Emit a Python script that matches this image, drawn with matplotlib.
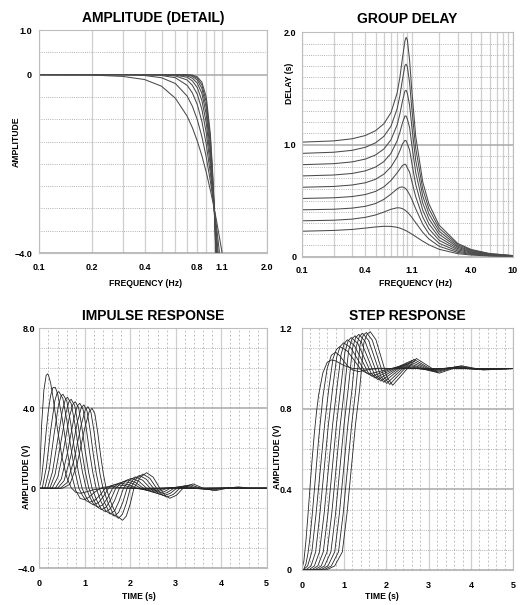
import matplotlib
matplotlib.use("Agg")
import matplotlib.pyplot as plt
from matplotlib.ticker import FixedLocator, FixedFormatter, NullFormatter

# Butterworth low-pass family, cutoff 1 Hz
ORDERS_FREQ = [2, 3, 4, 5, 6, 7, 8, 9, 10]

AMP_FREQ = [0.1, 0.2, 0.3, 0.4, 0.5, 0.6, 0.7, 0.75, 0.8, 0.85, 0.9, 0.95,
            0.975, 1.0, 1.025, 1.05, 1.1, 1.2]
AMP_DB = [
    [0.0, -0.01, -0.04, -0.11, -0.26, -0.53, -0.93, -1.19, -1.49, -1.82, -2.19, -2.59, -2.80, -3.01, -3.23, -3.46, -3.92, -4.88],
    [0.0, 0.0, 0.0, -0.02, -0.07, -0.20, -0.48, -0.71, -1.01, -1.39, -1.85, -2.39, -2.69, -3.01, -3.34, -3.69, -4.43, -6.00],
    [0.0, 0.0, 0.0, 0.0, -0.02, -0.07, -0.24, -0.41, -0.67, -1.05, -1.56, -2.21, -2.59, -3.01, -3.46, -3.94, -4.97, -7.24],
    [0.0, 0.0, 0.0, 0.0, 0.0, -0.03, -0.12, -0.24, -0.44, -0.78, -1.30, -2.04, -2.50, -3.01, -3.58, -4.20, -5.56, -8.57],
    [0.0, 0.0, 0.0, 0.0, 0.0, -0.01, -0.06, -0.14, -0.29, -0.58, -1.08, -1.88, -2.41, -3.01, -3.70, -4.47, -6.17, -9.96],
    [0.0, 0.0, 0.0, 0.0, 0.0, 0.0, -0.03, -0.08, -0.19, -0.42, -0.89, -1.73, -2.31, -3.01, -3.83, -4.74, -6.79, -11.4],
    [0.0, 0.0, 0.0, 0.0, 0.0, 0.0, -0.01, -0.04, -0.12, -0.31, -0.74, -1.58, -2.22, -3.01, -3.95, -5.03, -7.48, -12.8],
    [0.0, 0.0, 0.0, 0.0, 0.0, 0.0, -0.01, -0.02, -0.08, -0.23, -0.61, -1.45, -2.13, -3.01, -4.08, -5.32, -8.17, -14.3],
    [0.0, 0.0, 0.0, 0.0, 0.0, 0.0, 0.0, -0.01, -0.05, -0.17, -0.50, -1.33, -2.05, -3.01, -4.21, -5.63, -8.88, -15.8],
]

GD_FREQ = [0.1, 0.2, 0.3, 0.4, 0.5, 0.6, 0.7, 0.8, 0.85, 0.9, 0.95, 0.975, 1.0,
           1.05, 1.1, 1.2, 1.4, 1.6, 2.0, 3.0, 4.0, 6.0, 10.0]
GD_SEC = [
    [0.227, 0.234, 0.243, 0.255, 0.265, 0.271, 0.270, 0.262, 0.255, 0.246, 0.236, 0.231, 0.225, 0.214, 0.202, 0.179, 0.138, 0.106, 0.066, 0.027, 0.015, 0.0064, 0.0023],
    [0.320, 0.325, 0.335, 0.351, 0.372, 0.398, 0.423, 0.436, 0.435, 0.428, 0.415, 0.406, 0.398, 0.376, 0.352, 0.303, 0.217, 0.158, 0.093, 0.038, 0.021, 0.009, 0.0032],
    [0.418, 0.423, 0.433, 0.449, 0.474, 0.511, 0.558, 0.604, 0.619, 0.622, 0.612, 0.602, 0.588, 0.554, 0.513, 0.427, 0.289, 0.204, 0.119, 0.049, 0.027, 0.0118, 0.0042],
    [0.519, 0.525, 0.536, 0.554, 0.582, 0.623, 0.679, 0.747, 0.782, 0.814, 0.825, 0.815, 0.791, 0.754, 0.676, 0.535, 0.352, 0.249, 0.146, 0.061, 0.033, 0.0146, 0.0052],
    [0.619, 0.626, 0.639, 0.659, 0.690, 0.736, 0.800, 0.889, 0.945, 1.006, 1.037, 1.033, 1.005, 0.953, 0.840, 0.643, 0.414, 0.293, 0.173, 0.072, 0.040, 0.0174, 0.0062],
    [0.720, 0.728, 0.742, 0.765, 0.799, 0.848, 0.921, 1.032, 1.109, 1.195, 1.255, 1.252, 1.227, 1.153, 1.003, 0.751, 0.477, 0.338, 0.200, 0.084, 0.046, 0.0201, 0.0072],
    [0.820, 0.829, 0.845, 0.870, 0.907, 0.960, 1.042, 1.174, 1.272, 1.390, 1.478, 1.483, 1.456, 1.352, 1.166, 0.858, 0.540, 0.382, 0.227, 0.095, 0.052, 0.0229, 0.0082],
    [0.921, 0.931, 0.948, 0.975, 1.015, 1.073, 1.163, 1.317, 1.435, 1.582, 1.705, 1.716, 1.692, 1.552, 1.330, 0.966, 0.602, 0.427, 0.254, 0.107, 0.059, 0.0257, 0.0092],
    [1.021, 1.032, 1.051, 1.080, 1.123, 1.185, 1.284, 1.459, 1.598, 1.774, 1.926, 1.955, 1.933, 1.751, 1.493, 1.074, 0.665, 0.471, 0.281, 0.118, 0.065, 0.0285, 0.0102],
]

# time domain shows orders 2..12
IMP_T = [
    [0, 0.05, 0.1, 0.15, 0.18, 0.2, 0.25, 0.3, 0.4, 0.5, 0.6, 0.7, 0.8, 0.9, 1.0, 1.2, 1.4, 1.7, 2.2, 5.0],
    [0, 0.05, 0.1, 0.15, 0.2, 0.25, 0.3, 0.35, 0.4, 0.5, 0.6, 0.7, 0.8, 0.9, 1.0, 1.1, 1.2, 1.3, 1.4, 1.6, 1.8, 2.0, 5.0],
    [0, 0.064, 0.156, 0.247, 0.339, 0.393, 0.43, 0.518, 0.606, 0.694, 0.782, 0.87, 0.947, 1.023, 1.10, 1.217, 1.333, 1.45, 1.57, 1.69, 1.885, 2.08, 2.31, 2.61, 2.84, 3.1, 5.0],
    [0, 0.12, 0.22, 0.32, 0.42, 0.48, 0.52, 0.604, 0.688, 0.772, 0.856, 0.94, 1.023, 1.107, 1.19, 1.30, 1.41, 1.52, 1.645, 1.77, 1.96, 2.15, 2.265, 2.38, 2.53, 2.68, 2.91, 3.14, 5.0],
    [0, 0.18, 0.29, 0.40, 0.51, 0.576, 0.62, 0.702, 0.784, 0.866, 0.948, 1.03, 1.117, 1.203, 1.29, 1.397, 1.503, 1.61, 1.74, 1.87, 2.05, 2.23, 2.345, 2.46, 2.605, 2.75, 2.98, 3.21, 3.47, 3.73, 5.0],
    [0, 0.23, 0.348, 0.465, 0.583, 0.653, 0.70, 0.778, 0.856, 0.934, 1.012, 1.09, 1.183, 1.277, 1.37, 1.473, 1.577, 1.68, 1.81, 1.94, 2.115, 2.29, 2.405, 2.52, 2.665, 2.81, 3.04, 3.27, 3.53, 3.79, 5.0],
    [0, 0.28, 0.408, 0.535, 0.663, 0.739, 0.79, 0.864, 0.938, 1.012, 1.086, 1.16, 1.26, 1.36, 1.46, 1.56, 1.66, 1.76, 1.89, 2.02, 2.19, 2.36, 2.475, 2.59, 2.735, 2.88, 3.11, 3.34, 3.60, 3.86, 4.11, 4.36, 5.0],
    [0, 0.35, 0.485, 0.62, 0.755, 0.836, 0.89, 0.962, 1.034, 1.106, 1.178, 1.25, 1.353, 1.457, 1.56, 1.657, 1.753, 1.85, 1.98, 2.11, 2.275, 2.44, 2.55, 2.66, 2.81, 2.96, 3.19, 3.42, 3.68, 3.94, 4.19, 4.44, 5.0],
    [0, 0.40, 0.545, 0.69, 0.835, 0.922, 0.98, 1.048, 1.116, 1.184, 1.252, 1.32, 1.43, 1.54, 1.65, 1.743, 1.837, 1.93, 2.065, 2.20, 2.355, 2.51, 2.62, 2.73, 2.875, 3.02, 3.25, 3.48, 3.74, 4.00, 4.25, 4.50, 5.0],
    [0, 0.46, 0.613, 0.765, 0.918, 1.009, 1.07, 1.136, 1.202, 1.268, 1.334, 1.40, 1.513, 1.627, 1.74, 1.827, 1.913, 2.00, 2.14, 2.28, 2.43, 2.58, 2.69, 2.80, 2.945, 3.09, 3.32, 3.55, 3.81, 4.07, 4.32, 4.57, 5.0],
    [0, 0.51, 0.673, 0.835, 0.998, 1.095, 1.16, 1.222, 1.284, 1.346, 1.408, 1.47, 1.59, 1.71, 1.83, 1.913, 1.997, 2.08, 2.22, 2.36, 2.505, 2.65, 2.76, 2.87, 3.015, 3.16, 3.38, 3.61, 3.87, 4.13, 4.38, 4.63, 5.0],
]
IMP_V = [
    [0, 3.13, 4.90, 5.64, 5.72, 5.67, 5.25, 4.56, 2.94, 1.54, 0.57, 0.03, -0.20, -0.25, -0.20, -0.07, 0.0, 0.01, 0.0, 0.0],
    [0, 0.50, 1.59, 2.82, 3.90, 4.65, 5.03, 5.05, 4.75, 3.54, 2.05, 0.77, -0.11, -0.51, -0.57, -0.43, -0.23, -0.06, 0.05, 0.09, 0.03, -0.01, 0.0],
    [0, 0, 1.06, 2.85, 4.35, 4.78, 4.83, 4.49, 3.38, 2.03, 0.87, 0, -0.35, -0.61, -0.70, -0.61, -0.35, 0, 0.13, 0.18, 0.13, 0, -0.05, 0, 0.01, 0, 0],
    [0, 0, 0.94, 2.63, 4.14, 4.63, 4.70, 4.37, 3.29, 1.97, 0.85, 0, -0.415, -0.72, -0.83, -0.72, -0.415, 0, 0.18, 0.26, 0.18, 0, -0.06, -0.09, -0.06, 0, 0.02, 0, 0],
    [0, 0, 0.82, 2.37, 3.91, 4.46, 4.55, 4.23, 3.19, 1.91, 0.82, 0, -0.475, -0.83, -0.95, -0.83, -0.475, 0, 0.24, 0.34, 0.24, 0, -0.10, -0.14, -0.10, 0, 0.04, 0, -0.01, 0, 0],
    [0, 0, 0.71, 2.18, 3.74, 4.34, 4.45, 4.14, 3.12, 1.87, 0.80, 0, -0.535, -0.93, -1.07, -0.93, -0.535, 0, 0.29, 0.42, 0.29, 0, -0.13, -0.19, -0.13, 0, 0.06, 0, -0.02, 0, 0],
    [0, 0, 0.56, 1.95, 3.59, 4.20, 4.33, 4.03, 3.03, 1.82, 0.78, 0, -0.59, -1.03, -1.18, -1.03, -0.59, 0, 0.35, 0.50, 0.35, 0, -0.18, -0.25, -0.18, 0, 0.09, 0, -0.03, 0, 0.01, 0, 0],
    [0, 0, 0.47, 1.79, 3.44, 4.12, 4.25, 3.95, 2.98, 1.79, 0.77, 0, -0.645, -1.12, -1.29, -1.12, -0.645, 0, 0.40, 0.57, 0.40, 0, -0.22, -0.31, -0.22, 0, 0.12, 0, -0.05, 0, 0.02, 0, 0],
    [0, 0, 0.38, 1.58, 3.29, 4.02, 4.17, 3.88, 2.92, 1.75, 0.75, 0, -0.695, -1.21, -1.39, -1.21, -0.695, 0, 0.45, 0.64, 0.45, 0, -0.26, -0.37, -0.26, 0, 0.15, 0, -0.07, 0, 0.03, 0, 0],
    [0, 0, 0.29, 1.43, 3.14, 3.92, 4.08, 3.79, 2.86, 1.71, 0.73, 0, -0.75, -1.30, -1.50, -1.30, -0.75, 0, 0.50, 0.71, 0.50, 0, -0.31, -0.44, -0.31, 0, 0.18, 0, -0.09, 0, 0.05, 0, 0],
    [0, 0, 0.20, 1.24, 3.00, 3.82, 4.00, 3.72, 2.80, 1.68, 0.72, 0, -0.80, -1.39, -1.60, -1.39, -0.80, 0, 0.55, 0.78, 0.55, 0, -0.35, -0.50, -0.35, 0, 0.22, 0, -0.12, 0, 0.07, 0, 0],
]

STEP_T = [
    [0, 0.05, 0.1, 0.15, 0.2, 0.25, 0.3, 0.35, 0.4, 0.5, 0.6, 0.707, 0.8, 1.0, 1.2, 1.41, 1.7, 2.2, 5.0],
    [0, 0.05, 0.1, 0.15, 0.2, 0.25, 0.3, 0.35, 0.4, 0.5, 0.6, 0.7, 0.8, 0.9, 1.0, 1.1, 1.2, 1.35, 1.6, 1.8, 2.2, 5.0],
    [0, 0.04, 0.14, 0.24, 0.34, 0.44, 0.54, 0.64, 0.74, 0.82, 0.90, 1.07, 1.24, 1.41, 1.58, 1.90, 2.22, 2.51, 2.80, 5.0],
    [0, 0.10, 0.22, 0.33, 0.43, 0.53, 0.63, 0.73, 0.83, 0.91, 0.99, 1.1575, 1.325, 1.4925, 1.66, 1.975, 2.29, 2.575, 2.86, 3.41, 5.0],
    [0, 0.17, 0.30, 0.42, 0.53, 0.63, 0.73, 0.83, 0.93, 1.005, 1.08, 1.2425, 1.405, 1.5675, 1.73, 2.045, 2.36, 2.64, 2.92, 3.46, 4.0, 5.0],
    [0, 0.24, 0.38, 0.51, 0.62, 0.72, 0.82, 0.92, 1.02, 1.095, 1.17, 1.3275, 1.485, 1.6425, 1.80, 2.11, 2.42, 2.695, 2.97, 3.51, 4.05, 5.0],
    [0, 0.31, 0.46, 0.60, 0.71, 0.81, 0.91, 1.01, 1.11, 1.185, 1.26, 1.4125, 1.565, 1.7175, 1.87, 2.175, 2.48, 2.755, 3.03, 3.57, 4.1, 5.0],
    [0, 0.38, 0.54, 0.69, 0.80, 0.90, 1.00, 1.10, 1.20, 1.275, 1.35, 1.4975, 1.645, 1.7925, 1.94, 2.24, 2.54, 2.81, 3.08, 3.62, 4.15, 5.0],
    [0, 0.45, 0.62, 0.78, 0.89, 0.99, 1.09, 1.19, 1.29, 1.365, 1.44, 1.5825, 1.725, 1.8675, 2.01, 2.305, 2.60, 2.87, 3.14, 3.67, 4.2, 5.0],
    [0, 0.52, 0.70, 0.87, 0.98, 1.08, 1.18, 1.28, 1.38, 1.455, 1.53, 1.6675, 1.805, 1.9425, 2.08, 2.365, 2.65, 2.92, 3.19, 3.72, 4.25, 5.0],
    [0, 0.59, 0.78, 0.96, 1.07, 1.17, 1.27, 1.37, 1.47, 1.545, 1.62, 1.7525, 1.885, 2.0175, 2.15, 2.43, 2.71, 2.98, 3.25, 3.77, 4.3, 5.0],
]
STEP_V = [
    [0, 0.042, 0.145, 0.279, 0.421, 0.558, 0.681, 0.785, 0.869, 0.979, 1.030, 1.043, 1.038, 1.015, 1.001, 0.998, 0.999, 1.0, 1.0],
    [0, 0.004, 0.030, 0.085, 0.169, 0.277, 0.399, 0.526, 0.649, 0.859, 0.999, 1.066, 1.081, 1.064, 1.035, 1.010, 0.993, 0.985, 0.995, 1.002, 1.0, 1.0],
    [0, 0.001, 0.02, 0.09, 0.28, 0.50, 0.72, 0.90, 1.05, 1.095, 1.109, 1.089, 1.041, 0.992, 0.972, 0.989, 1.006, 1.003, 0.999, 1.0],
    [0, 0.001, 0.02, 0.09, 0.28, 0.50, 0.72, 0.90, 1.06, 1.11, 1.128, 1.104, 1.045, 0.986, 0.962, 0.9865, 1.011, 1.004, 0.997, 1.001, 1.0],
    [0, 0.001, 0.02, 0.09, 0.28, 0.50, 0.72, 0.90, 1.07, 1.125, 1.143, 1.115, 1.048, 0.981, 0.953, 0.985, 1.017, 1.006, 0.995, 1.002, 0.999, 1.0],
    [0, 0.001, 0.02, 0.09, 0.28, 0.50, 0.72, 0.90, 1.08, 1.137, 1.154, 1.124, 1.050, 0.976, 0.945, 0.984, 1.023, 1.008, 0.992, 1.004, 0.998, 1.0],
    [0, 0.001, 0.02, 0.09, 0.28, 0.50, 0.72, 0.90, 1.09, 1.146, 1.163, 1.130, 1.051, 0.971, 0.938, 0.984, 1.029, 1.009, 0.989, 1.006, 0.997, 1.0],
    [0, 0.001, 0.02, 0.09, 0.28, 0.50, 0.72, 0.90, 1.10, 1.154, 1.170, 1.135, 1.051, 0.967, 0.932, 0.984, 1.035, 1.011, 0.986, 1.008, 0.996, 1.0],
    [0, 0.001, 0.02, 0.09, 0.28, 0.50, 0.72, 0.90, 1.11, 1.161, 1.175, 1.139, 1.051, 0.962, 0.926, 0.984, 1.041, 1.012, 0.983, 1.010, 0.995, 1.0],
    [0, 0.001, 0.02, 0.09, 0.28, 0.50, 0.72, 0.90, 1.12, 1.166, 1.179, 1.141, 1.050, 0.959, 0.921, 0.984, 1.046, 1.013, 0.980, 1.012, 0.994, 1.0],
    [0, 0.001, 0.02, 0.09, 0.28, 0.50, 0.72, 0.90, 1.13, 1.171, 1.183, 1.144, 1.050, 0.956, 0.917, 0.984, 1.050, 1.014, 0.977, 1.014, 0.993, 1.0],
]

FONT = ['Liberation Sans Narrow', 'Liberation Sans', 'DejaVu Sans']
plt.rcParams['font.family'] = FONT
plt.rcParams['font.weight'] = 'bold'
plt.rcParams['axes.titleweight'] = 'bold'
plt.rcParams['axes.labelweight'] = 'bold'

VGRID = '#cfcfcf'
DOTTED = '#9a9a9a'
MAJOR = '#a8a8a8'
SPINE = '#bdbdbd'
TITLE_SIZE = 10
LABEL_SIZE = 6.2
TICK_SIZE = 6.5


def style(ax, xmajor, xlabels, xminor, ymajor, ylabels, yminor, vminor_dashed=False):
    ax.xaxis.set_major_locator(FixedLocator(xmajor))
    ax.xaxis.set_major_formatter(FixedFormatter(xlabels))
    ax.xaxis.set_minor_locator(FixedLocator(xminor))
    ax.xaxis.set_minor_formatter(NullFormatter())
    ax.yaxis.set_major_locator(FixedLocator(ymajor))
    ax.yaxis.set_major_formatter(FixedFormatter(ylabels))
    ax.yaxis.set_minor_locator(FixedLocator(yminor))
    ax.yaxis.set_minor_formatter(NullFormatter())
    ax.tick_params(which='both', length=0, labelsize=TICK_SIZE)
    ax.grid(True, axis='x', which='major', color=VGRID, lw=0.9, ls='-')
    if vminor_dashed:
        ax.grid(True, axis='x', which='minor', color='#b4b4b4', lw=0.6, ls=(0, (2.2, 2.6)))
    else:
        ax.grid(True, axis='x', which='minor', color=VGRID, lw=0.9, ls='-')
    ax.grid(True, axis='y', which='major', color=MAJOR, lw=1.1, ls='-')
    ax.grid(True, axis='y', which='minor', color=DOTTED, lw=0.6, ls=(0, (1, 1.6)))
    ax.set_axisbelow(True)
    for s in ax.spines.values():
        s.set_color(SPINE)
        s.set_linewidth(0.8)


fig = plt.figure(figsize=(5.2, 6.05), dpi=100)

# amplitude detail
ax1 = fig.add_axes([0.075, 0.5818, 0.4385, 0.3686])
ax1.set_xscale('log')
for row in AMP_DB:
    ax1.plot(AMP_FREQ, row, color='#4a4a4a', lw=0.75)
ax1.set_xlim(0.1, 2.0)
ax1.set_ylim(-4.0, 1.0)
style(ax1, [0.1, 0.2, 0.4, 0.8, 1.1, 2.0], ['0.1', '0.2', '0.4', '0.8', '1.1', '2.0'],
      [0.3, 0.5, 0.6, 0.7, 0.9, 1.0],
      [-4.0, 0.0, 1.0], ['\u22124.0', '0', '1.0'],
      [-3.5, -3.0, -2.5, -2.0, -1.5, -1.0, -0.5, 0.5])
ax1.tick_params(axis='x', pad=7)
ax1.tick_params(axis='y', pad=5)
ax1.set_title('AMPLITUDE (DETAIL)', fontsize=TITLE_SIZE, pad=6)
ax1.set_xlabel('FREQUENCY (Hz)', fontsize=LABEL_SIZE)
ax1.xaxis.set_label_coords(0.468, -0.117)
ax1.set_ylabel('AMPLITUDE', fontsize=LABEL_SIZE)
ax1.yaxis.set_label_coords(-0.079, 0.5)

# group delay
ax2 = fig.add_axes([0.5802, 0.5757, 0.4063, 0.3709])
ax2.set_xscale('log')
for row in GD_SEC:
    ax2.plot(GD_FREQ, row, color='#4a4a4a', lw=0.75)
ax2.set_xlim(0.1, 10)
ax2.set_ylim(0, 2.0)
style(ax2, [0.1, 0.4, 1.1, 4.0, 10], ['0.1', '0.4', '1.1', '4.0', '10'],
      [0.2, 0.3, 0.5, 0.6, 0.7, 0.8, 0.9, 1.0, 2, 3, 5, 6, 7, 8, 9],
      [0.0, 1.0, 2.0], ['0', '1.0', '2.0'],
      [0.1, 0.2, 0.3, 0.4, 0.5, 0.6, 0.7, 0.8, 0.9, 1.1, 1.2, 1.3, 1.4, 1.5, 1.6, 1.7, 1.8, 1.9])
ax2.tick_params(axis='x', pad=7)
ax2.tick_params(axis='y', pad=4)
ax2.set_title('GROUP DELAY', fontsize=TITLE_SIZE, pad=7)
ax2.set_xlabel('FREQUENCY (Hz)', fontsize=LABEL_SIZE)
ax2.xaxis.set_label_coords(0.54, -0.099)
ax2.set_ylabel('DELAY (s)', fontsize=LABEL_SIZE)
ax2.yaxis.set_label_coords(-0.036, 0.774)

TIME_MINOR = [0.2, 0.4, 0.6, 0.8, 1.2, 1.4, 1.6, 1.8, 2.2, 2.4, 2.6, 2.8,
              3.2, 3.4, 3.6, 3.8, 4.2, 4.4, 4.6, 4.8]

# impulse response
ax3 = fig.add_axes([0.0756, 0.0607, 0.4373, 0.3967])
for tt, vv in zip(IMP_T, IMP_V):
    ax3.plot(tt, vv, color='#262626', lw=0.6)
ax3.set_xlim(0, 5)
ax3.set_ylim(-4.0, 8.0)
style(ax3, [0, 1, 2, 3, 4, 5], ['0', '1', '2', '3', '4', '5'], TIME_MINOR,
      [-4.0, 0.0, 4.0, 8.0], ['\u22124.0', '0', '4.0', '8.0'],
      [-3, -2, -1, 1, 2, 3, 5, 6, 7], vminor_dashed=True)
ax3.tick_params(axis='x', pad=8)
ax3.tick_params(axis='y', pad=3)
ax3.set_title('IMPULSE RESPONSE', fontsize=TITLE_SIZE, pad=6)
ax3.set_xlabel('TIME (s)', fontsize=LABEL_SIZE)
ax3.xaxis.set_label_coords(0.438, -0.099)
ax3.set_ylabel('AMPLITUDE (V)', fontsize=LABEL_SIZE)
ax3.yaxis.set_label_coords(-0.038, 0.38)

# step response
ax4 = fig.add_axes([0.5802, 0.0579, 0.4069, 0.3995])
for tt, vv in zip(STEP_T, STEP_V):
    ax4.plot(tt, vv, color='#262626', lw=0.6)
ax4.set_xlim(0, 5)
ax4.set_ylim(0, 1.2)
style(ax4, [0, 1, 2, 3, 4, 5], ['0', '1', '2', '3', '4', '5'], TIME_MINOR,
      [0.0, 0.4, 0.8, 1.2], ['0', '0.4', '0.8', '1.2'],
      [0.1, 0.2, 0.3, 0.5, 0.6, 0.7, 0.9, 1.0, 1.1], vminor_dashed=True)
ax4.tick_params(axis='x', pad=8)
ax4.tick_params(axis='y', pad=7)
ax4.set_title('STEP RESPONSE', fontsize=TITLE_SIZE, pad=6)
ax4.set_xlabel('TIME (s)', fontsize=LABEL_SIZE)
ax4.xaxis.set_label_coords(0.378, -0.091)
ax4.set_ylabel('AMPLITUDE (V)', fontsize=LABEL_SIZE)
ax4.yaxis.set_label_coords(-0.092, 0.467)

fig.savefig('out.png', dpi=100)
